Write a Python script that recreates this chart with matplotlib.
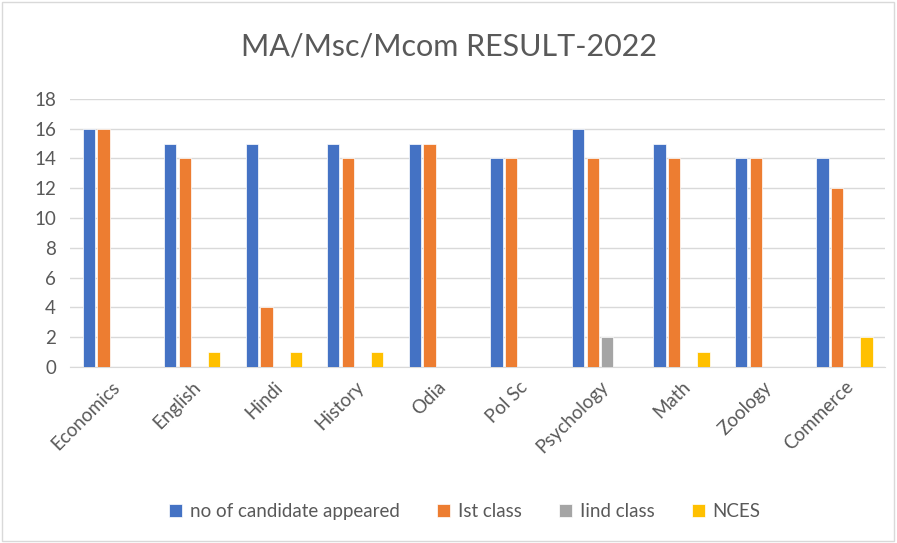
import numpy as np
import matplotlib.pyplot as plt
from matplotlib.patches import Rectangle

plt.rcParams['font.family'] = ['Lato', 'DejaVu Sans']

subjects = ['Economics', 'English', 'Hindi', 'History', 'Odia',
            'Pol Sc', 'Psychology', 'Math', 'Zoology', 'Commerce']
appeared = [16, 15, 15, 15, 15, 14, 16, 15, 14, 14]
first_class = [16, 14, 4, 14, 15, 14, 14, 14, 14, 12]
second_class = [0, 0, 0, 0, 0, 0, 2, 0, 0, 0]
nces = [0, 1, 1, 1, 0, 0, 0, 1, 0, 2]

series = [
    ('no of candidate appeared', appeared, '#4472C4'),
    ('Ist class', first_class, '#ED7D31'),
    ('Iind class', second_class, '#A5A5A5'),
    ('NCES', nces, '#FFC000'),
]

fig = plt.figure(figsize=(8.97, 5.43), dpi=100)
ax = fig.add_axes([0.078, 0.324, 0.909, 0.494])

x = np.arange(len(subjects))
step = 0.18
width = 0.15
for i, (name, vals, color) in enumerate(series):
    ax.bar(x + (i - 1.5) * step, vals, width, color=color, label=name,
           edgecolor='white', linewidth=0.5, zorder=3)

ax.set_xlim(-0.5, len(subjects) - 0.5)
ax.set_ylim(0, 18)
ax.set_yticks(range(0, 19, 2))
ax.set_xticks(x)
ax.set_xticklabels(subjects, rotation=45, ha='right', rotation_mode='anchor')
ax.tick_params(axis='both', length=0, labelsize=13.5, colors='#595959')
ax.tick_params(axis='x', pad=8)
ax.tick_params(axis='y', pad=10)
ax.grid(axis='y', color='#d9d9d9', linewidth=1, zorder=0)
for side in ['top', 'right', 'left']:
    ax.spines[side].set_visible(False)
ax.spines['bottom'].set_color('#d9d9d9')

fig.suptitle('MA/Msc/Mcom RESULT-2022', y=0.94, fontsize=22, color='#595959')

fig.legend(loc='center', bbox_to_anchor=(0.518, 0.058), ncol=4, frameon=False,
           fontsize=13.5, handlelength=0.7, handleheight=0.7, columnspacing=2.0,
           handletextpad=0.4, labelcolor='#595959')

fig.patches.append(Rectangle((0.002, 0.004), 0.995, 0.992, transform=fig.transFigure,
                             fill=False, edgecolor='#d9d9d9', linewidth=1))

fig.savefig('out.png', dpi=100)
